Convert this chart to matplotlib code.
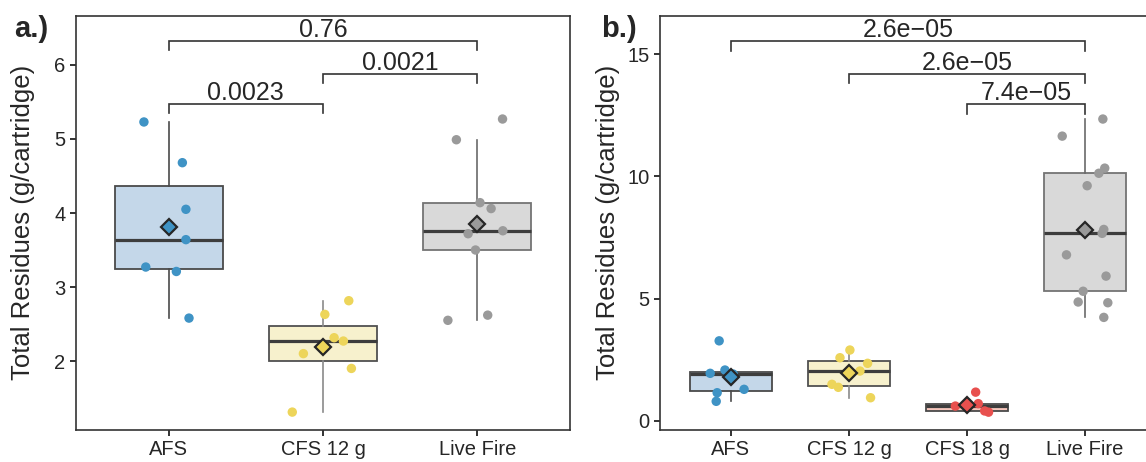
import numpy as np
import matplotlib
matplotlib.use("Agg")
import matplotlib.pyplot as plt

plt.rcParams['font.family'] = ['Liberation Sans', 'DejaVu Sans']

# ---- panel a: total residues per cartridge ----
groups_a = ["AFS", "CFS 12 g", "Live Fire"]
afs_a = [5.23, 4.68, 4.05, 3.64, 3.27, 3.21, 2.58]
cfs12_a = [2.815, 2.63, 2.315, 2.27, 2.10, 1.90, 1.31]
live_a = [5.27, 4.99, 4.14, 4.06, 3.76, 3.72, 3.50, 2.62, 2.55]

# ---- panel b ----
groups_b = ["AFS", "CFS 12 g", "CFS 18 g", "Live Fire"]
afs_b = [3.27, 2.075, 1.94, 1.91, 1.285, 1.146, 0.794]
cfs12_b = [2.894, 2.579, 2.35, 2.034, 1.49, 1.367, 0.941]
cfs18_b = [1.17, 0.70, 0.60, 0.40, 0.35]
live_b = [12.35, 11.65, 10.34, 10.13, 9.62, 7.83, 7.67, 6.79, 5.92, 5.30,
          4.86, 4.83, 4.23]

# pairwise comparison labels: (group i, group j, label)
pvals_a = [("AFS", "CFS 12 g", "0.0023"),
           ("CFS 12 g", "Live Fire", "0.0021"),
           ("AFS", "Live Fire", "0.76")]
pvals_b = [("CFS 18 g", "Live Fire", "7.4e\u221205"),
           ("CFS 12 g", "Live Fire", "2.6e\u221205"),
           ("AFS", "Live Fire", "2.6e\u221205")]

# horizontal jitter of the individual points (fraction of group spacing)
jit_afs_a = [-0.16, 0.089, 0.112, 0.112, -0.148, 0.05, 0.132]
jit_cfs12_a = [0.167, 0.012, 0.072, 0.132, -0.127, 0.184, -0.199]
jit_live_a = [0.163, -0.136, 0.017, 0.089, 0.165, -0.06, -0.012, 0.067, -0.191]
jit_afs_b = [-0.099, -0.05, -0.175, 0.02, 0.112, -0.116, -0.124]
jit_cfs12_b = [0.008, -0.076, 0.158, 0.093, -0.144, -0.09, 0.183]
jit_cfs18_b = [0.073, 0.095, -0.099, 0.149, 0.182]
jit_live_b = [0.15, -0.194, 0.166, 0.116, 0.017, 0.158, 0.144, -0.158, 0.177,
              -0.017, -0.059, 0.192, 0.158]

point_col = {"AFS": "#3F93C5", "CFS 12 g": "#EDD55A",
             "CFS 18 g": "#E8504E", "Live Fire": "#9A9A9A"}
fill_col = {"AFS": "#C4D7E9", "CFS 12 g": "#F7F1CD",
            "CFS 18 g": "#F7C6BC", "Live Fire": "#D9D9D9"}
edge_col = {"AFS": "#4A4A4A", "CFS 12 g": "#505050",
            "CFS 18 g": "#4A4A4A", "Live Fire": "#747474"}
whisk_col = {"AFS": "#4A4A4A", "CFS 12 g": "#8A8A8A",
             "CFS 18 g": "#4A4A4A", "Live Fire": "#6A6A6A"}

TXT = "#262626"


def draw_panel(ax, groups, data, jitters, pvals, bracket_y, tick_h):
    pos = np.arange(1, len(groups) + 1)
    for g, p, vals, jit in zip(groups, pos, data, jitters):
        bp = ax.boxplot([vals], positions=[p], widths=0.7, whis=1.5,
                        showfliers=False, showcaps=False, patch_artist=True,
                        zorder=2)
        for b in bp['boxes']:
            b.set(facecolor=fill_col[g], edgecolor=edge_col[g], linewidth=1.3)
        for w in bp['whiskers']:
            w.set(color=whisk_col[g], linewidth=1.2)
        for m in bp['medians']:
            m.set(color="#3D3D3D", linewidth=2.3)
        ax.scatter(p + np.asarray(jit), vals, s=46, color=point_col[g],
                   edgecolors='none', zorder=3)
        ax.plot([p], [np.mean(vals)], marker='D', markersize=8.5,
                markerfacecolor=point_col[g], markeredgecolor="#262626",
                markeredgewidth=1.6, zorder=4, linestyle='none')

    idx = {g: i + 1 for i, g in enumerate(groups)}
    for (g1, g2, lab), y in zip(pvals, bracket_y):
        x1, x2 = idx[g1], idx[g2]
        ax.plot([x1, x1, x2, x2], [y - tick_h, y, y, y - tick_h],
                color="#333333", linewidth=1.2, zorder=5,
                solid_joinstyle='miter')
        ax.annotate(lab, xy=((x1 + x2) / 2, y), xytext=(0, 3.2),
                    textcoords='offset points', ha='center', va='baseline',
                    fontsize=18, color=TXT)

    ax.set_xlim(0.4, len(groups) + 0.6)
    ax.set_xticks(pos)
    ax.set_xticklabels(groups)
    for s in ax.spines.values():
        s.set_color("#333333")
        s.set_linewidth(1.2)
    ax.tick_params(axis='both', length=4.5, width=1.4, color="#333333",
                   labelsize=14.5, labelcolor=TXT, pad=3)
    ax.set_ylabel("Total Residues (g/cartridge)", fontsize=18.5, color=TXT)


fig = plt.figure(figsize=(11.46, 4.62), dpi=100)
H = 462.0
W = 1146.0
bottom = 1 - 430 / H
height = (430 - 15.7) / H
ax_a = fig.add_axes([76 / W, bottom, 494 / W, height])
ax_b = fig.add_axes([660 / W, bottom, 496 / W, height])

draw_panel(ax_a, groups_a, [afs_a, cfs12_a, live_a],
           [jit_afs_a, jit_cfs12_a, jit_live_a], pvals_a,
           [5.469, 5.874, 6.32], 0.124)
ax_a.set_ylim(1.068, 6.666)
ax_a.set_yticks([2, 3, 4, 5, 6])
ax_a.yaxis.set_label_coords(-0.083, 0.5)

draw_panel(ax_b, groups_b, [afs_b, cfs12_b, cfs18_b, live_b],
           [jit_afs_b, jit_cfs12_b, jit_cfs18_b, jit_live_b], pvals_b,
           [12.95, 14.19, 15.53], 0.38)
ax_b.set_ylim(-0.38, 16.58)
ax_b.set_yticks([0, 5, 10, 15])
ax_b.yaxis.set_label_coords(-0.081, 0.5)

fig.text(14 / W, 1 - 29 / H, "a.)", fontsize=21, fontweight='bold',
         color="#262626", ha='left', va='center')
fig.text(601 / W, 1 - 29 / H, "b.)", fontsize=21, fontweight='bold',
         color="#262626", ha='left', va='center')

fig.savefig("out.png", dpi=100)
